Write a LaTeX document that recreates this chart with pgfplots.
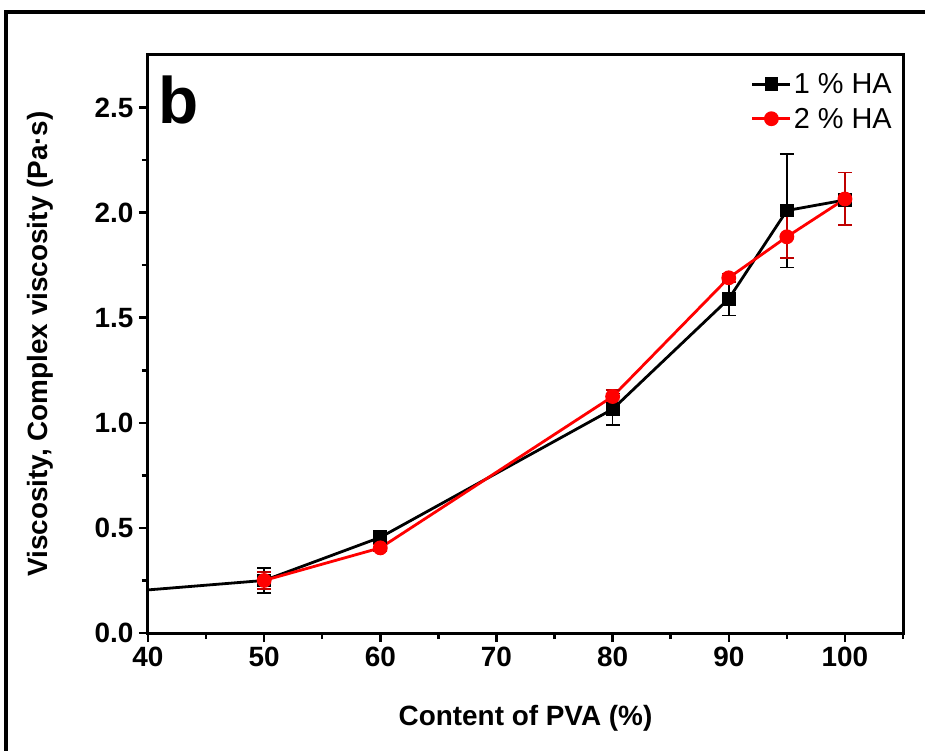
\documentclass[border=0pt]{standalone}
\usepackage{pgfplots}
\pgfplotsset{compat=1.18}
\usepackage{fontspec}
\setmainfont{Liberation Sans}
\begin{document}
\begin{tikzpicture}
\useasboundingbox (-148bp,-118bp) rectangle (777bp,633bp);
\draw[line width=4bp] (-142bp,-140bp) -- (-142bp,621bp) -- (800bp,621bp);
\begin{axis}[
  at={(0,0)}, anchor=origin,
  scale only axis, width=755bp, height=578bp,
  xmin=40, xmax=105, ymin=0, ymax=2.75,
  xtick={40,50,...,100}, minor xtick={45,55,...,105},
  ytick={0,0.5,...,2.5}, minor ytick={0.25,0.75,...,2.25},
  tick pos=left, tick align=outside,
  major tick length=9bp, minor tick length=6bp,
  tick style={line width=2.5bp, black},
  minor tick style={line width=2.5bp, black},
  axis line style={line width=3bp},
  /pgf/number format/assume math mode=true,
  yticklabel style={/pgf/number format/fixed, /pgf/number format/fixed zerofill, /pgf/number format/precision=1},
  ticklabel style={font=\fontsize{28}{32}\selectfont\bfseries},
  xticklabel style={yshift=-1bp},
  yticklabel style={xshift=-2bp},
  xlabel={Content of PVA (\%)},
  ylabel={Viscosity, Complex viscosity (Pa·s)},
  label style={font=\fontsize{28}{32}\selectfont\bfseries},
  xlabel style={at={(axis description cs:0.5,-0.147)}, anchor=center},
  ylabel style={at={(axis description cs:-0.143,0.5)}, anchor=center},
  legend style={at={(rel axis cs:0.988,0.972)}, anchor=north east, draw=none, fill=none,
    font=\fontsize{29}{33}\selectfont, row sep=9bp, inner sep=0pt},
  legend cell align=left,
  legend image code/.code={
    \draw[#1] (0bp,0bp) -- (38bp,0bp);
    \draw[#1, mark repeat=1] plot coordinates {(19bp,0bp)};
  },
  clip=true,
]
\addplot[black, line width=2.8bp, forget plot] coordinates {(40,0.205) (50,0.25)};
\addplot[black, line width=2.8bp, mark=square*, mark size=5.5bp,
  error bars/.cd, y dir=both, y explicit,
  error bar style={line width=1.5bp, black},
  error mark options={rotate=90, mark size=7bp, line width=1.5bp, black}]
  coordinates {
  (50,0.25) +- (0,0.06)
  (60,0.455) +- (0,0.02)
  (80,1.065) +- (0,0.075)
  (90,1.59) +- (0,0.08)
  (95,2.01) +- (0,0.27)
  (100,2.06) +- (0,0.03)
};
\addlegendentry{1 \% HA}
\addplot[red, line width=2.8bp, mark=*, mark size=6bp,
  error bars/.cd, y dir=both, y explicit,
  error bar style={line width=1.5bp, red!75!black},
  error mark options={rotate=90, mark size=7bp, line width=1.5bp, red!75!black}]
  coordinates {
  (50,0.25) +- (0,0.04)
  (60,0.405) +- (0,0.015)
  (80,1.125) +- (0,0.03)
  (90,1.69) +- (0,0.02)
  (95,1.885) +- (0,0.1)
  (100,2.065) +- (0,0.125)
};
\addlegendentry{2 \% HA}
\node[anchor=north west, inner sep=0pt, font=\fontsize{66}{66}\selectfont\bfseries] at (rel axis cs:0.014,0.965) {b};
\end{axis}
\end{tikzpicture}
\end{document}
